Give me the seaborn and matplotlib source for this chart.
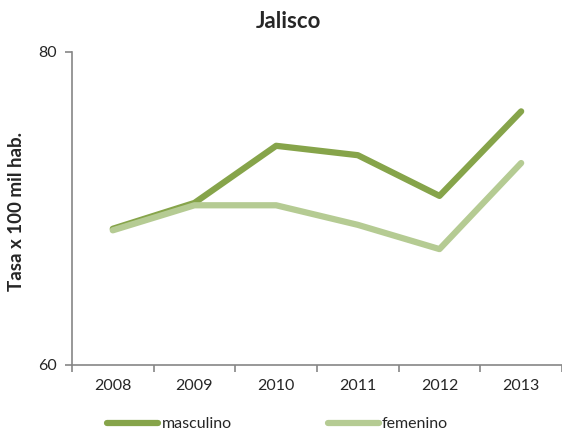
import pandas as pd
import matplotlib.pyplot as plt
import seaborn as sns
from matplotlib.ticker import FixedLocator

# Data
years = ["2008", "2009", "2010", "2011", "2012", "2013"]
masculino = [68.7, 70.35, 74.0, 73.4, 70.8, 76.2]
femenino = [68.6, 70.2, 70.2, 68.95, 67.4, 72.9]

df = pd.DataFrame({
    "year": list(range(len(years))) * 2,
    "value": masculino + femenino,
    "sexo": ["masculino"] * len(years) + ["femenino"] * len(years),
})

sns.set_style("white")
plt.rcParams["font.family"] = ["Lato", "DejaVu Sans"]

fig = plt.figure(figsize=(5.62, 4.36), dpi=100)
ax = fig.add_axes([0.128, 0.163, 0.872, 0.718])

palette = {"masculino": "#86A44A", "femenino": "#B5CB93"}
sns.lineplot(data=df, x="year", y="value", hue="sexo", palette=palette,
             linewidth=4.5, ax=ax, legend=False, solid_capstyle="round")

ax.set_xlim(-0.5, 5.5)
ax.set_ylim(60, 80)
ax.set_yticks([60, 80])
ax.set_xticks(range(len(years)))
ax.set_xticklabels(years)
ax.xaxis.set_minor_locator(FixedLocator([i - 0.5 for i in range(len(years) + 1)]))

grey = "#868686"
for side in ["top", "right"]:
    ax.spines[side].set_visible(False)
for side in ["left", "bottom"]:
    ax.spines[side].set_color(grey)
    ax.spines[side].set_linewidth(1.2)

ax.tick_params(axis="x", which="major", length=0, pad=10, labelsize=11.5)
ax.tick_params(axis="x", which="minor", length=5, color=grey, width=1.2)
ax.tick_params(axis="y", length=5, color=grey, width=1.2, labelsize=11.5, pad=6)
ax.tick_params(axis="y", direction="out", left=True)
ax.tick_params(axis="x", which="minor", direction="out", bottom=True)

ax.set_xlabel("")
ax.set_ylabel("")
fig.text(17 / 562, 1 - 211 / 436, "Tasa x 100 mil hab.", rotation=90,
         fontsize=13.5, fontweight="bold", ha="center", va="center")
fig.text(288 / 562, 1 - 22 / 436, "Jalisco", fontsize=16, fontweight="bold",
         ha="center", va="center")

handles = [plt.Line2D([], [], color=palette[k], linewidth=4.5, solid_capstyle="round")
           for k in ["masculino", "femenino"]]
fig.legend(handles, ["masculino", "femenino"], loc="lower center", ncol=2,
           frameon=False, fontsize=11.5, bbox_to_anchor=(0.494, -0.022),
           handlelength=3.2, handletextpad=0.2, columnspacing=6.0)

fig.savefig("out.png", dpi=100)
